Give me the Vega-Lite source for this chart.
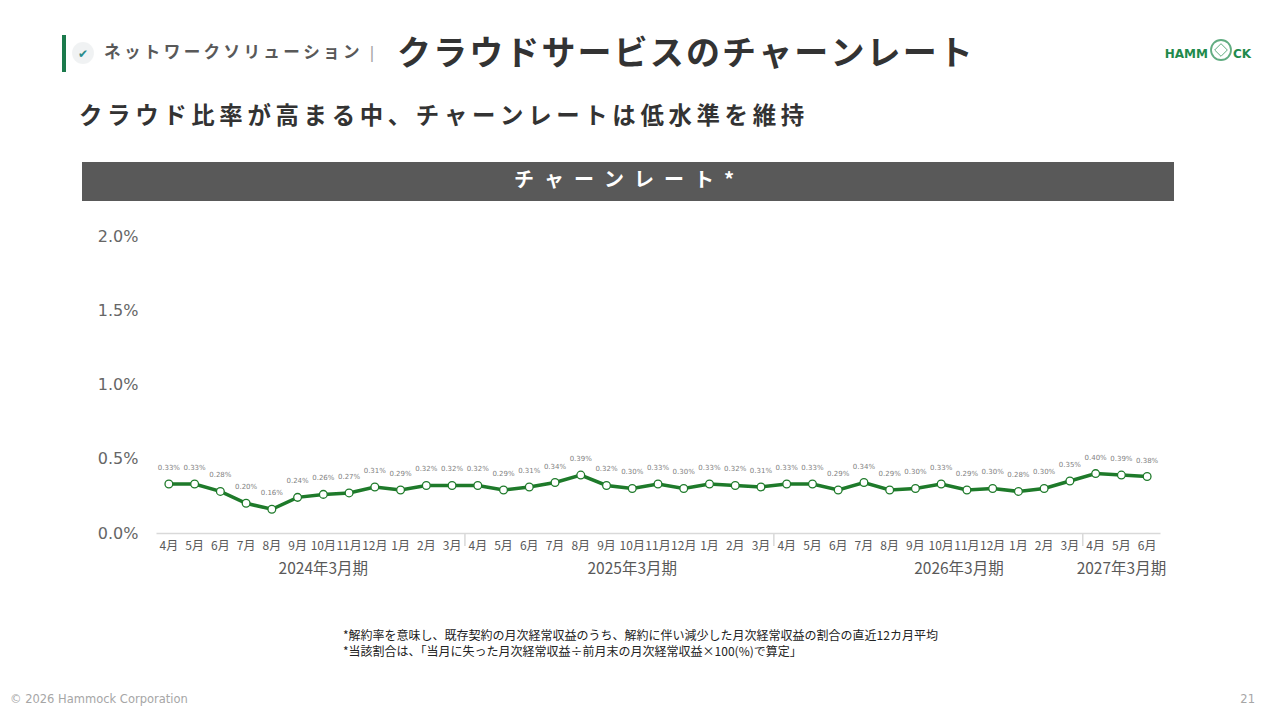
{
  "$schema": "https://vega.github.io/schema/vega-lite/v6.json",
  "autosize": {"type": "none"},
  "width": 1004,
  "height": 297,
  "padding": {"left": 156, "top": 236, "right": 120, "bottom": 187},
  "background": "white",
  "config": {"view": {"stroke": null}, "font": "Noto Sans CJK JP"},
  "datasets": {
    "churn": [
      {"key": "2023-04", "m": 4, "v": 0.0033},
      {"key": "2023-05", "m": 5, "v": 0.0033},
      {"key": "2023-06", "m": 6, "v": 0.0028},
      {"key": "2023-07", "m": 7, "v": 0.0020},
      {"key": "2023-08", "m": 8, "v": 0.0016},
      {"key": "2023-09", "m": 9, "v": 0.0024},
      {"key": "2023-10", "m": 10, "v": 0.0026},
      {"key": "2023-11", "m": 11, "v": 0.0027},
      {"key": "2023-12", "m": 12, "v": 0.0031},
      {"key": "2024-01", "m": 1, "v": 0.0029},
      {"key": "2024-02", "m": 2, "v": 0.0032},
      {"key": "2024-03", "m": 3, "v": 0.0032},
      {"key": "2024-04", "m": 4, "v": 0.0032},
      {"key": "2024-05", "m": 5, "v": 0.0029},
      {"key": "2024-06", "m": 6, "v": 0.0031},
      {"key": "2024-07", "m": 7, "v": 0.0034},
      {"key": "2024-08", "m": 8, "v": 0.0039},
      {"key": "2024-09", "m": 9, "v": 0.0032},
      {"key": "2024-10", "m": 10, "v": 0.0030},
      {"key": "2024-11", "m": 11, "v": 0.0033},
      {"key": "2024-12", "m": 12, "v": 0.0030},
      {"key": "2025-01", "m": 1, "v": 0.0033},
      {"key": "2025-02", "m": 2, "v": 0.0032},
      {"key": "2025-03", "m": 3, "v": 0.0031},
      {"key": "2025-04", "m": 4, "v": 0.0033},
      {"key": "2025-05", "m": 5, "v": 0.0033},
      {"key": "2025-06", "m": 6, "v": 0.0029},
      {"key": "2025-07", "m": 7, "v": 0.0034},
      {"key": "2025-08", "m": 8, "v": 0.0029},
      {"key": "2025-09", "m": 9, "v": 0.0030},
      {"key": "2025-10", "m": 10, "v": 0.0033},
      {"key": "2025-11", "m": 11, "v": 0.0029},
      {"key": "2025-12", "m": 12, "v": 0.0030},
      {"key": "2026-01", "m": 1, "v": 0.0028},
      {"key": "2026-02", "m": 2, "v": 0.0030},
      {"key": "2026-03", "m": 3, "v": 0.0035},
      {"key": "2026-04", "m": 4, "v": 0.0040},
      {"key": "2026-05", "m": 5, "v": 0.0039},
      {"key": "2026-06", "m": 6, "v": 0.0038}
    ],
    "groups": [
      {"key": "2023-10", "label": "2024年3月期"},
      {"key": "2024-10", "label": "2025年3月期"},
      {"key": "2025-11", "label": "2026年3月期"},
      {"key": "2026-05", "label": "2027年3月期"}
    ],
    "one": [{}]
  },
  "data": {"name": "churn"},
  "layer": [
    {
      "mark": {"type": "line", "color": "#1e7a2a", "strokeWidth": 3.5},
      "encoding": {
        "x": {
          "field": "key", "type": "ordinal",
          "scale": {"type": "band", "paddingInner": 0, "paddingOuter": 0},
          "axis": {
            "title": null, "ticks": false, "domainColor": "#d9d9d9", "domainWidth": 1.5,
            "labelAngle": 0, "labelOverlap": false, "labelFlush": false, "labelBound": false,
            "labelFontSize": 12, "labelColor": "#595959", "labelPadding": 7,
            "labelFont": "Noto Sans CJK JP",
            "labelExpr": "toNumber(substring(datum.value, 5, 7)) + '月'"
          }
        },
        "y": {
          "field": "v", "type": "quantitative",
          "scale": {"domain": [0, 0.02], "nice": false},
          "axis": {
            "title": null, "values": [0, 0.005, 0.01, 0.015, 0.02], "format": ".1%",
            "grid": false, "domain": false, "ticks": false, "labelPadding": 18,
            "labelFontSize": 16, "labelColor": "#666666", "labelFont": "DejaVu Sans"
          }
        }
      }
    },
    {
      "mark": {"type": "point", "filled": true, "fill": "white", "stroke": "#1e7a2a", "strokeWidth": 1.3, "size": 60, "opacity": 1},
      "encoding": {
        "x": {"field": "key", "type": "ordinal"},
        "y": {"field": "v", "type": "quantitative"}
      }
    },
    {
      "mark": {"type": "text", "fontSize": 7, "color": "#7f7f7f", "dy": -16, "font": "DejaVu Sans"},
      "encoding": {
        "x": {"field": "key", "type": "ordinal"},
        "y": {"field": "v", "type": "quantitative"},
        "text": {"field": "v", "format": ".2%"}
      }
    },
    {
      "transform": [{"filter": "datum.m == 4 && datum.key != '2023-04'"}],
      "mark": {"type": "rule", "color": "#d9d9d9", "strokeWidth": 1.5},
      "encoding": {
        "x": {"field": "key", "type": "ordinal", "bandPosition": 0},
        "y": {"value": 297},
        "y2": {"value": 310}
      }
    },
    {
      "data": {"name": "groups"},
      "transform": [{"filter": "datum.label != '2026年3月期'"}],
      "mark": {"type": "text", "fontSize": 15.5, "color": "#595959", "baseline": "middle", "y": 333},
      "encoding": {
        "x": {"field": "key", "type": "ordinal", "bandPosition": 0.5},
        "text": {"field": "label"}
      }
    },
    {
      "data": {"name": "groups"},
      "transform": [{"filter": "datum.label == '2026年3月期'"}],
      "mark": {"type": "text", "fontSize": 15.5, "color": "#595959", "baseline": "middle", "y": 333, "dx": -8},
      "encoding": {
        "x": {"field": "key", "type": "ordinal", "bandPosition": 0.5},
        "text": {"field": "label"}
      }
    },
    {
      "data": {"name": "one"},
      "layer": [
        {"mark": {"type": "rect", "x": -94, "x2": -90, "y": -201, "y2": -164, "color": "#1b7a4c"}, "encoding": {}},
        {"mark": {"type": "point", "x": -73, "y": -183, "size": 480, "filled": true, "color": "#e9ecee"}, "encoding": {}},
        {"mark": {"type": "text", "x": -73, "y": -182, "text": "✔", "fontSize": 12, "color": "#2a8c8c", "align": "center", "baseline": "middle", "font": "DejaVu Sans"}, "encoding": {}},
        {"mark": {"type": "text", "x": -52, "y": -183, "text": "ネ\u2009ッ\u2009ト\u2009ワ\u2009ー\u2009ク\u2009ソ\u2009リ\u2009ュ\u2009ー\u2009シ\u2009ョ\u2009ン", "fontSize": 16.6, "fontWeight": "bold", "color": "#595959", "align": "left", "baseline": "middle"}, "encoding": {}},
        {"mark": {"type": "text", "x": 216, "y": -183, "text": "|", "fontSize": 16, "color": "#a6a6a6", "align": "center", "baseline": "middle", "font": "DejaVu Sans"}, "encoding": {}},
        {"mark": {"type": "text", "x": 241, "y": -181, "text": "ク\u200aラ\u200aウ\u200aド\u200aサ\u200aー\u200aビ\u200aス\u200aの\u200aチ\u200aャ\u200aー\u200aン\u200aレ\u200aー\u200aト", "fontSize": 34, "fontWeight": "bold", "color": "#333333", "align": "left", "baseline": "middle"}, "encoding": {}},
        {"mark": {"type": "rule", "x": -116, "x2": 1084, "y": -149, "color": "#d9d9d9", "strokeWidth": 1.5}, "encoding": {}},
        {"mark": {"type": "text", "x": -77, "y": -119, "text": "ク\u2009ラ\u2009ウ\u2009ド\u2009比\u2009率\u2009が\u2009高\u2009ま\u2009る\u2009中\u2009、\u2009チ\u2009ャ\u2009ー\u2009ン\u2009レ\u2009ー\u2009ト\u2009は\u2009低\u2009水\u2009準\u2009を\u2009維\u2009持", "fontSize": 23.4, "fontWeight": "bold", "color": "#333333", "align": "left", "baseline": "middle"}, "encoding": {}},
        {"mark": {"type": "rect", "x": -74, "x2": 1018, "y": -74, "y2": -35, "color": "#595959"}, "encoding": {}},
        {"mark": {"type": "text", "x": 468, "y": -55, "text": "チ\u2002ャ\u2002ー\u2002ン\u2002レ\u2002ー\u2002ト\u2002*", "fontSize": 20, "fontWeight": "bold", "color": "white", "align": "center", "baseline": "middle"}, "encoding": {}},
        {"mark": {"type": "text", "x": 187, "y": 400, "text": "*解約率を意味し、既存契約の月次経常収益のうち、解約に伴い減少した月次経常収益の割合の直近12カ月平均", "fontSize": 12, "color": "#222222", "align": "left", "baseline": "middle"}, "encoding": {}},
        {"mark": {"type": "text", "x": 187, "y": 416, "text": "*当該割合は、「当月に失った月次経常収益÷前月末の月次経常収益×100(%)で算定」", "fontSize": 12, "color": "#222222", "align": "left", "baseline": "middle"}, "encoding": {}},
        {"mark": {"type": "text", "x": -146, "y": 464, "text": "© 2026 Hammock Corporation", "fontSize": 11.5, "color": "#a6a6a6", "align": "left", "baseline": "middle", "font": "DejaVu Sans"}, "encoding": {}},
        {"mark": {"type": "text", "x": 1099, "y": 464, "text": "21", "fontSize": 11.5, "color": "#a6a6a6", "align": "right", "baseline": "middle", "font": "DejaVu Sans"}, "encoding": {}},
        {"mark": {"type": "text", "x": 1052, "y": -182, "text": "HAMM", "fontSize": 12, "fontWeight": "bold", "color": "#1f8a4c", "align": "right", "baseline": "middle", "font": "DejaVu Sans"}, "encoding": {}},
        {"mark": {"type": "point", "x": 1065, "y": -186, "size": 400, "filled": false, "color": "#1f8a4c", "strokeWidth": 1.8}, "encoding": {}},
        {"mark": {"type": "point", "x": 1065, "y": -186, "size": 160, "shape": "diamond", "filled": false, "color": "#1f8a4c", "strokeWidth": 1}, "encoding": {}},
        {"mark": {"type": "text", "x": 1077, "y": -182, "text": "CK", "fontSize": 12, "fontWeight": "bold", "color": "#1f8a4c", "align": "left", "baseline": "middle", "font": "DejaVu Sans"}, "encoding": {}}
      ]
    }
  ]
}
